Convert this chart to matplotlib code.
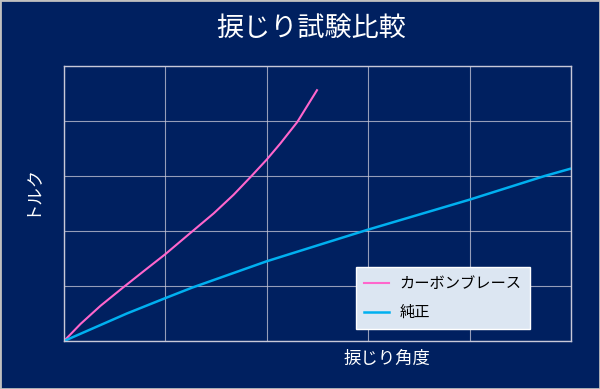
import matplotlib.pyplot as plt
from matplotlib.patches import Rectangle

plt.rcParams['font.family'] = ['Noto Sans CJK JP', 'DejaVu Sans']

# values, in grid units (5 x 5 grid, no scale shown)
carbon_x = [0, 0.163, 0.36, 0.574, 0.786, 1.0, 1.263, 1.476, 1.673, 1.844,
            2.0, 2.133, 2.30, 2.495]
carbon_y = [0, 0.31, 0.64, 0.96, 1.27, 1.58, 1.99, 2.32, 2.66, 2.99,
            3.30, 3.59, 3.98, 4.56]
stock_x = [0, 0.62, 1.0, 1.263, 2.0, 2.59, 2.99, 4.0, 4.74, 4.99]
stock_y = [0, 0.50, 0.78, 0.97, 1.45, 1.79, 2.02, 2.57, 3.0, 3.13]
labels = ['カーボンブレース', '純正']

bg = '#002060'
fig = plt.figure(figsize=(6, 3.89), dpi=100, facecolor=bg)
ax = fig.add_axes([64/600, 48/389, 507/600, 275/389], facecolor=bg)

ax.plot(carbon_x, carbon_y, color='#ff66cc', lw=1.5, label=labels[0])
ax.plot(stock_x, stock_y, color='#00b0f0', lw=1.8, label=labels[1])

ax.set_xlim(0, 5)
ax.set_ylim(0, 5)
ax.set_xticks(range(6))
ax.set_yticks(range(6))
ax.tick_params(length=0, labelbottom=False, labelleft=False)
ax.grid(True, color='#c8c8d8', lw=0.8, alpha=0.75)
for s in ax.spines.values():
    s.set_color('#c8c8d8')
    s.set_linewidth(1.0)

fig.text(0.518, 0.928, '捩じり試験比較', color='white', fontsize=19.5,
         ha='center', va='center')
fig.text(387/600, 1 - 359/389, '捩じり角度', color='white', fontsize=12.5,
         ha='center', va='center')
fig.text(30/600, 1 - 190/389, 'トルク', color='white', fontsize=12.5,
         ha='center', va='center', rotation=90)

leg = ax.legend(loc='upper left', bbox_to_anchor=(356/600, 1 - 267/389),
                bbox_transform=fig.transFigure, fontsize=11, frameon=True,
                fancybox=False, handlelength=1.6, handletextpad=0.7,
                borderpad=0.55, labelspacing=0.75, borderaxespad=0)
leg.get_frame().set_facecolor('#dce6f2')
leg.get_frame().set_edgecolor('white')
leg.get_frame().set_alpha(1)
for t in leg.get_texts():
    t.set_color('black')

fig.patches.append(Rectangle((0, 0), 1, 1, transform=fig.transFigure,
                             fill=False, edgecolor='#c0c0c0', lw=2))

fig.savefig('out.png', facecolor=bg)
